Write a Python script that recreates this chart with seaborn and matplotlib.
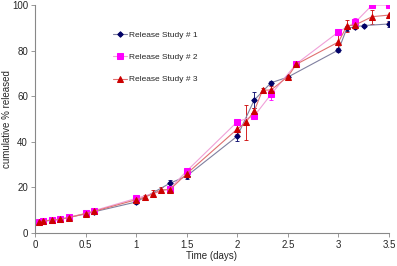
import numpy as np
import pandas as pd
import seaborn as sns
import matplotlib
matplotlib.use("Agg")
import matplotlib.pyplot as plt

# Release Study # 1
t1 = [0.042, 0.083, 0.167, 0.25, 0.333, 0.5, 0.583, 1.0, 1.333, 1.5, 2.0, 2.167,
      2.333, 2.5, 3.0, 3.083, 3.167, 3.25, 3.5]
y1 = [4.8, 5.2, 5.6, 6.0, 6.8, 8.4, 9.3, 13.6, 21.8, 25.0, 42.5, 58.3,
      65.9, 68.4, 80.3, 89.8, 90.5, 91.0, 91.7]
e1 = [0.3, 0.3, 0.3, 0.3, 0.3, 0.4, 0.5, 1.0, 1.5, 1.5, 2.0, 3.5,
      1.0, 0.5, 1.0, 1.0, 0.5, 0.5, 1.2]

# Release Study # 2
t2 = [0.042, 0.083, 0.167, 0.25, 0.333, 0.5, 0.583, 1.0, 1.333, 1.5, 2.0, 2.167,
      2.333, 2.583, 3.0, 3.167, 3.333, 3.5]
y2 = [4.9, 5.3, 5.8, 6.1, 6.9, 8.6, 9.8, 15.2, 19.4, 27.2, 48.8, 51.3,
      60.8, 74.2, 88.2, 92.5, 100.0, 100.0]
e2 = [0.3, 0.3, 0.3, 0.3, 0.3, 0.4, 0.5, 0.8, 0.8, 1.0, 1.0, 1.0,
      2.5, 0.8, 1.0, 2.0, 0.5, 0.5]

# Release Study # 3
t3 = [0.042, 0.083, 0.167, 0.25, 0.333, 0.5, 0.583, 1.0, 1.083, 1.167, 1.25, 1.333,
      1.5, 2.0, 2.083, 2.167, 2.25, 2.333, 2.5, 2.583, 3.0, 3.083, 3.167, 3.333, 3.5]
y3 = [4.8, 5.2, 5.7, 6.0, 6.8, 8.5, 9.5, 14.6, 15.7, 17.2, 19.0, 19.0,
      26.0, 45.6, 48.5, 53.5, 62.7, 62.7, 68.6, 74.0, 83.8, 90.8, 91.3, 94.9, 95.6]
e3 = [0.3, 0.3, 0.3, 0.3, 0.3, 0.4, 0.5, 0.8, 1.0, 1.5, 1.2, 1.0,
      1.0, 2.0, 7.8, 1.5, 1.0, 2.0, 0.5, 0.8, 3.0, 2.5, 2.0, 3.0, 3.0]

labels = ["Release Study # 1", "Release Study # 2", "Release Study # 3"]
marker_colors = ["#000066", "#FF00FF", "#CC0000"]
line_colors = ["#8080A0", "#F0A0D8", "#E07070"]
markers = ["D", "s", "^"]
sizes = [2.8, 4.5, 3.8]

sns.set_style("white")
plt.rcParams["font.family"] = ["Liberation Sans", "DejaVu Sans"]

fig, ax = plt.subplots(figsize=(3.97, 2.66), dpi=100)
fig.subplots_adjust(left=0.088, right=0.98, bottom=0.124, top=0.981)

series = [(t1, y1, e1), (t2, y2, e2), (t3, y3, e3)]
for (t, y, e), lab, mc, lc, mk, ms in zip(series, labels, marker_colors,
                                          line_colors, markers, sizes):
    df = pd.DataFrame({"time": t, "released": y})
    ax.errorbar(t, y, yerr=e, fmt="none", ecolor=mc, elinewidth=0.6,
                capsize=1.5, capthick=0.6, zorder=2)
    sns.lineplot(data=df, x="time", y="released", ax=ax, color=lc,
                 linewidth=0.8, marker=mk, markersize=ms,
                 markerfacecolor=mc, markeredgecolor=mc, label=lab,
                 zorder=3)

ax.set_xlim(0, 3.5)
ax.set_ylim(0, 100)
ax.set_xticks(np.arange(0, 3.51, 0.5))
ax.set_xticklabels(["0", "0.5", "1", "1.5", "2", "2.5", "3", "3.5"])
ax.set_yticks(range(0, 101, 20))
ax.tick_params(axis="both", labelsize=7, length=3, width=0.6,
               color="#888888", direction="out", pad=2)
ax.tick_params(axis="x", bottom=True)
ax.tick_params(axis="y", left=True)
for side in ["top", "right"]:
    ax.spines[side].set_visible(False)
for side in ["left", "bottom"]:
    ax.spines[side].set_color("#888888")
    ax.spines[side].set_linewidth(0.8)

ax.set_xlabel("Time (days)", fontsize=7, labelpad=1)
ax.set_ylabel("cumulative % released", fontsize=7)
ax.yaxis.set_label_coords(-0.066, 0.5)

ax.legend(loc="upper left", bbox_to_anchor=(0.2, 0.92), frameon=False,
          fontsize=6, handlelength=1.6, handletextpad=0.3,
          labelspacing=1.75)

fig.savefig("out.png", dpi=100)
